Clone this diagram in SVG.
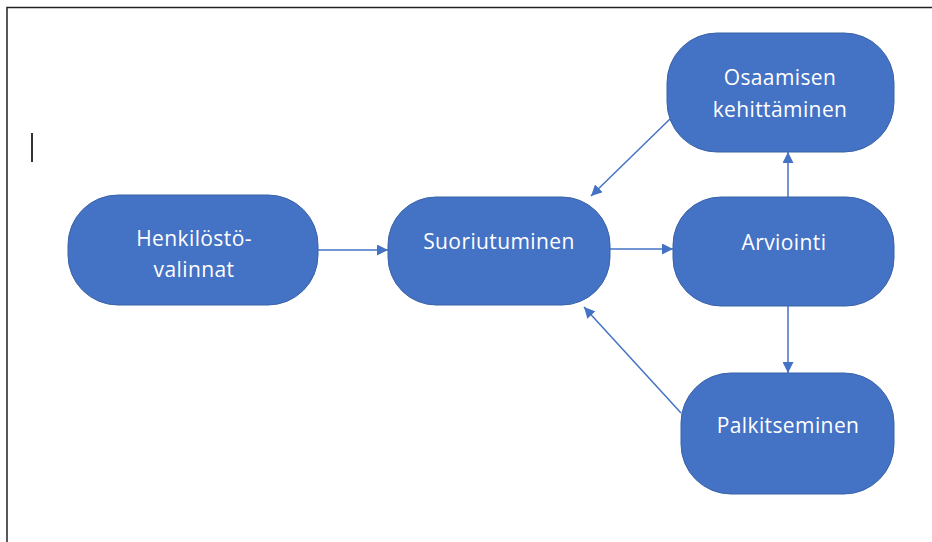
<svg xmlns="http://www.w3.org/2000/svg" width="932" height="542" viewBox="0 0 932 542">
  <defs>
    <style>
      .node { fill: #4472C4; stroke: #3A62A8; stroke-width: 1; }
      .label { fill: #FFFFFF; font-family: "Open Sans", "Noto Sans", "Liberation Sans", sans-serif; font-size: 21px; letter-spacing: 0.4px; text-anchor: middle; }
      .edge { stroke: #4472C4; stroke-width: 1.5; fill: none; marker-end: url(#arrow); }
      .frame { stroke: #222222; stroke-width: 1.5; fill: none; }
    </style>
    <marker id="arrow" viewBox="0 0 10 10" refX="10" refY="5" markerWidth="11" markerHeight="11" markerUnits="userSpaceOnUse" orient="auto">
      <path d="M0,0 L10,5 L0,10 z" fill="#4472C4"/>
    </marker>
  </defs>
  <rect width="932" height="542" fill="#FFFFFF"/>

  <!-- page frame and text cursor -->
  <path class="frame" d="M7,542 L7,7.5 L932,7.5"/>
  <line x1="32" y1="133" x2="32" y2="162" stroke="#333333" stroke-width="2"/>

  <g id="connectors">
    <line class="edge" x1="318" y1="250" x2="388" y2="250"/>
    <line class="edge" x1="610" y1="249" x2="673" y2="249"/>
    <line class="edge" x1="788" y1="197" x2="788" y2="152"/>
    <line class="edge" x1="788" y1="306" x2="788" y2="373"/>
    <line class="edge" x1="670" y1="119" x2="591" y2="196"/>
    <line class="edge" x1="681" y1="413" x2="584" y2="307"/>
  </g>

  <g id="henkilostovalinnat">
    <rect class="node" x="68" y="195" width="250" height="110" rx="50" ry="50"/>
    <text class="label" x="194" y="246">Henkilöstö-</text>
    <text class="label" x="194" y="277">valinnat</text>
  </g>

  <g id="suoriutuminen">
    <rect class="node" x="388" y="197" width="222" height="108" rx="48" ry="48"/>
    <text class="label" x="499" y="249">Suoriutuminen</text>
  </g>

  <g id="osaamisen-kehittaminen">
    <rect class="node" x="667" y="33" width="227" height="119" rx="50" ry="50"/>
    <text class="label" x="780" y="85">Osaamisen</text>
    <text class="label" x="780" y="117">kehittäminen</text>
  </g>

  <g id="arviointi">
    <rect class="node" x="673" y="197" width="221" height="109" rx="48" ry="48"/>
    <text class="label" x="784" y="250">Arviointi</text>
  </g>

  <g id="palkitseminen">
    <rect class="node" x="681" y="373" width="213" height="121" rx="50" ry="50"/>
    <text class="label" x="788" y="433">Palkitseminen</text>
  </g>
</svg>
